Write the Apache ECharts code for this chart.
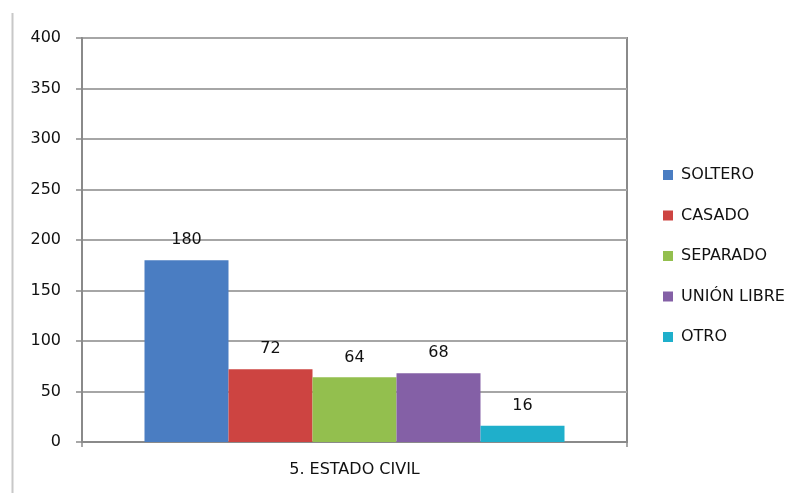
<!DOCTYPE html>
<html>

<head>
    <meta charset="utf-8">
    <script src="https://cdn.jsdelivr.net/npm/echarts@6.0.0/dist/echarts.min.js"></script>
</head>

<body style="margin:0; background:#fff;">
    <div id="chart" style="width:808px; height:493px;"></div>
</body>

<script type="text/javascript">
    var categories = ['5. ESTADO CIVIL'];
    var seriesNames = ['SOLTERO', 'CASADO', 'SEPARADO', 'UNIÓN LIBRE', 'OTRO'];
    var seriesValues = [180, 72, 64, 68, 16];
    var seriesColors = ['#4a7dc2', '#cd4441', '#93bf4e', '#8460a6', '#1fafcb'];

    var font = '"DejaVu Sans", "Open Sans", sans-serif';

    var series = seriesNames.map(function (name, i) {
        return {
            name: name,
            type: 'bar',
            barWidth: 84,
            barGap: '0%',
            itemStyle: { color: seriesColors[i] },
            label: {
                show: true,
                position: 'top',
                distance: 12,
                color: '#111',
                fontSize: 16,
                fontFamily: font
            },
            data: [seriesValues[i]]
        };
    });

    var option = {
        animation: false,
        backgroundColor: '#fff',
        grid: {
            left: 82,
            right: 181,
            top: 38,
            bottom: 51,
            show: true,
            borderColor: '#8a8a8a',
            borderWidth: 2
        },
        legend: {
            orient: 'vertical',
            left: 658,
            top: 162,
            itemWidth: 10,
            itemHeight: 10,
            itemGap: 24.5,
            icon: 'rect',
            textStyle: { fontSize: 16, color: '#111', fontFamily: font, padding: [0, 0, 0, 3] },
            data: seriesNames
        },
        xAxis: {
            type: 'category',
            data: categories,
            axisLine: { lineStyle: { color: '#8a8a8a', width: 2 } },
            axisTick: { show: true, length: 5, lineStyle: { color: '#8a8a8a', width: 1.5 } },
            axisLabel: { fontSize: 16, color: '#111', fontFamily: font, margin: 20 }
        },
        yAxis: {
            type: 'value',
            min: 0,
            max: 400,
            interval: 50,
            axisLine: { show: true, lineStyle: { color: '#8a8a8a', width: 2 } },
            axisTick: { show: true, length: 6, lineStyle: { color: '#8a8a8a', width: 1.5 } },
            axisLabel: { fontSize: 16, color: '#111', fontFamily: font, margin: 21 },
            splitLine: { lineStyle: { color: '#a6a6a6', width: 2 } }
        },
        graphic: [{
            type: 'line',
            shape: { x1: 12.5, y1: 13, x2: 12.5, y2: 493 },
            style: { stroke: '#c8c8c8', lineWidth: 2 }
        }],
        series: series
    };

    var chart = echarts.init(document.getElementById('chart'));
    chart.setOption(option);
</script>

</html>
